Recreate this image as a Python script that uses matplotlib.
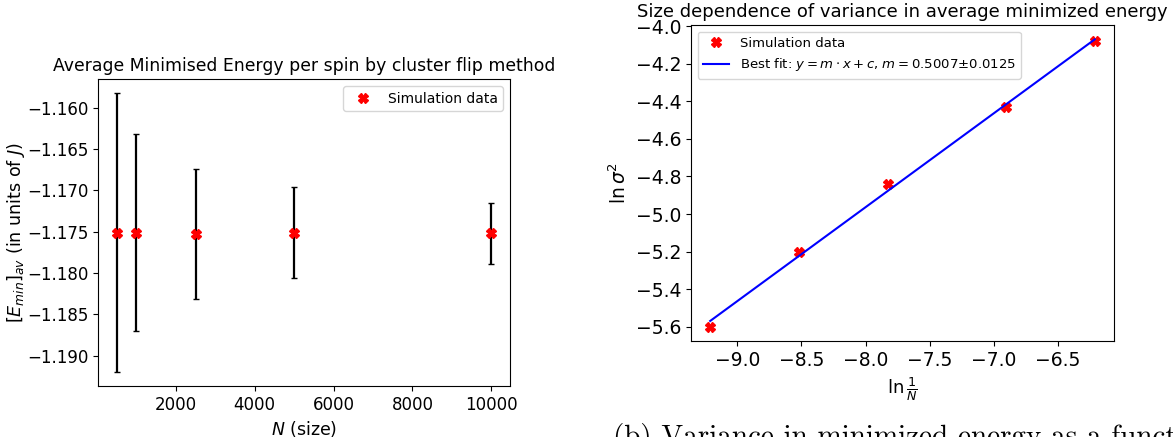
import numpy as np
import matplotlib
matplotlib.use("Agg")
import matplotlib.pyplot as plt
from matplotlib.ticker import MultipleLocator

# system sizes and results
N = np.array([500, 1000, 2500, 5000, 10000])
E_av = np.array([-1.1751, -1.1751, -1.1753, -1.1751, -1.1752])
var = np.array([0.0169, 0.0119, 0.0079, 0.0055, 0.0037])   # sigma^2, used as error bar

fig = plt.figure(figsize=(11.73, 4.37), dpi=100)

# left panel: average minimised energy
ax1 = fig.add_axes([98/1173, 1-386/437, 412/1173, 307/437])
ax1.errorbar(N, E_av, yerr=var, fmt='none', ecolor='black', elinewidth=1.6, capsize=2)
ax1.plot(N, E_av, 'X', color='red', markersize=7, linestyle='none', label='Simulation data')
ax1.set_title('Average Minimised Energy per spin by cluster flip method', fontsize=12.4)
ax1.set_xlabel(r'$N$ (size)', fontsize=12.5)
ax1.set_ylabel(r'$[E_{min}]_{av}$ (in units of $J$)', fontsize=12.6, labelpad=0)
ax1.tick_params(labelsize=12)
ax1.set_xticks([2000, 4000, 6000, 8000, 10000])
ax1.legend(loc='upper right', fontsize=10)

# right panel: ln sigma^2 vs ln 1/N
lnN = np.log(1.0/N)
lnvar = np.log(var)
m, c = np.polyfit(lnN, lnvar, 1)

ax2 = fig.add_axes([691/1173, 1-341/437, 423/1173, 316/437])
ax2.plot(lnN, lnvar, 'X', color='red', markersize=7, linestyle='none', label='Simulation data')
ax2.plot(lnN, m*lnN + c, color='blue', linewidth=1.5,
         label=r'Best fit: $y = m\cdot x + c$, $m = 0.5007{\pm}0.0125$')
ax2.set_title('Size dependence of variance in average minimized energy', fontsize=13)
ax2.set_xlabel(r'$\ln\frac{1}{N}$', fontsize=13)
ax2.set_ylabel(r'$\ln\sigma^2$', fontsize=13.5)
ax2.yaxis.set_major_locator(MultipleLocator(0.2))
ax2.tick_params(labelsize=13.5)
ax2.legend(loc='upper left', fontsize=9.5)

# caption of the sub-figure, cut off by the page edge
fig.text(613/1173, 1-423/437, '(b) Variance in minimized energy as a function of size',
         fontfamily='cmr10', fontsize=21, va='top', ha='left')

fig.savefig('out.png', dpi=100)
